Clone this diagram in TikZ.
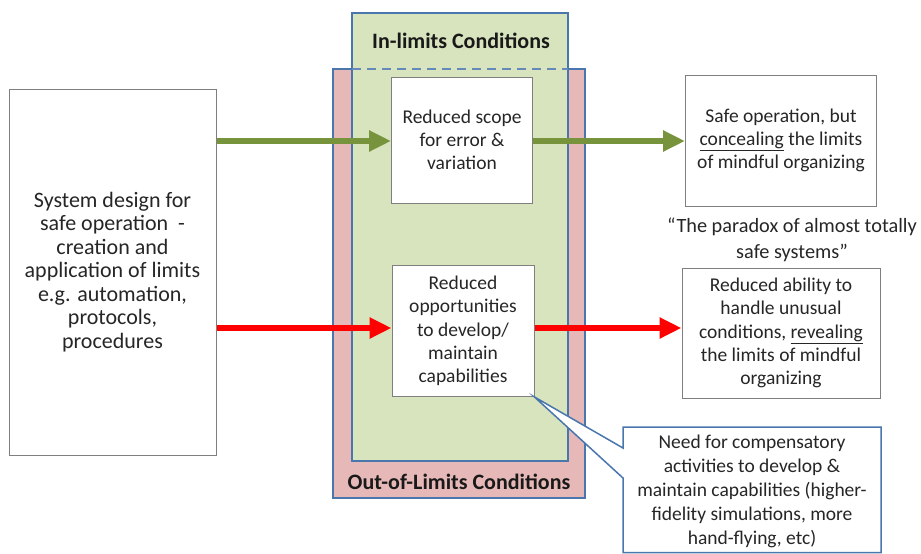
\documentclass[tikz,border=0pt]{standalone}
\usepackage{fontspec}
\setmainfont{Carlito}
\usetikzlibrary{arrows.meta}
\definecolor{gfill}{HTML}{D7E4BD}
\definecolor{pfill}{HTML}{E6B9B8}
\definecolor{bblue}{HTML}{4A76AE}
\definecolor{ggreen}{HTML}{77933C}
\definecolor{gborder}{HTML}{7F7F7F}
\definecolor{txt}{HTML}{262626}
\tikzset{
  plain/.style={draw=gborder, line width=1pt, fill=white, align=center, text=txt, inner sep=0pt,
     font=\fontsize{19.5}{23.3}\selectfont},
  flow/.style={line width=6.5pt, -{Triangle[length=22pt,width=20pt]}},
  title/.style={font=\bfseries\fontsize{22}{24}\selectfont, text=black!90},
}
\begin{document}
\begin{tikzpicture}[x=1pt,y=-1pt]
\useasboundingbox (0,0) rectangle (921,554);
% out-of-limits region
\draw[bblue, line width=1.5pt, fill=pfill] (333,69) rectangle (585,498);
% in-limits region
\draw[bblue, line width=1.5pt, fill=gfill] (352,13) rectangle (568,461);
\draw[bblue!85, line width=2pt, dash pattern=on 9pt off 6pt] (352,69) -- (568,69);
\node[title] (inlim) at (461,41) {In-limits Conditions};
\node[title] (outlim) at (459,482) {Out-of-Limits Conditions};
% boxes
\node[plain, minimum width=207pt, minimum height=366pt, font=\fontsize{22}{23.5}\selectfont] (left) at (112.5,272)
  {System design for\\safe operation\ \ -\\creation and\\application of limits\\e.g. automation,\\protocols,\\procedures};
\node[plain, minimum width=141pt, minimum height=126pt] (scope) at (462,140)
  {Reduced scope\\for error \&\\variation};
\node[plain, minimum width=142pt, minimum height=131pt] (opp) at (463,331)
  {Reduced\\opportunities\\to develop/\\maintain\\capabilities};
\node[plain, minimum width=191pt, minimum height=131pt] (safe) at (781,140.5)
  {Safe operation, but\\\underline{concealing} the limits\\of mindful organizing};
\node[plain, minimum width=198pt, minimum height=130pt] (ability) at (781,333)
  {Reduced ability to\\handle unusual\\conditions, \underline{revealing}\\the limits of mindful\\organizing};
\node[align=center, text=txt, font=\fontsize{20.3}{26}\selectfont] (quote) at (792,240)
  {“The paradox of almost totally\\safe systems”};
% arrows
\coordinate (gy) at (0,141);
\coordinate (ry) at (0,328);
\draw[flow, ggreen] (left.east |- gy) -- (scope.west |- gy);
\draw[flow, ggreen] (scope.east |- gy) -- (safe.west |- gy);
\draw[flow, red] (left.east |- ry) -- (opp.west |- ry);
\draw[flow, red] (opp.east |- ry) -- (ability.west |- ry);
% callout
\coordinate (tip) at (opp.south east);
\draw[bblue, line width=1.5pt, fill=white] (623,427) -- (881,427) -- (881,552.5) -- (623,552.5) -- (623,478) -- (tip) -- (623,448) -- cycle;
\node[align=center, text=txt, font=\fontsize{19.5}{24}\selectfont] (need) at (752,491)
  {Need for compensatory\\activities to develop \&\\maintain capabilities (higher-\\fidelity simulations, more\\hand-flying, etc)};
\end{tikzpicture}
\end{document}
